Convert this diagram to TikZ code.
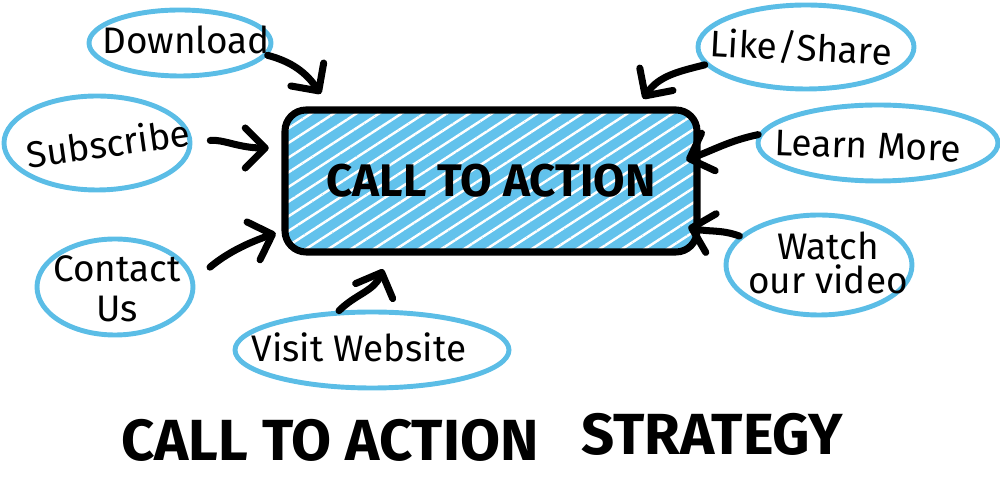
\documentclass[tikz,border=0pt]{standalone}
\usepackage{fontspec}
\setmainfont{Fira Sans}
\usetikzlibrary{arrows.meta,positioning,shapes.geometric,patterns.meta}

\definecolor{bubbleblue}{HTML}{5BBDE6}
\definecolor{ctablue}{HTML}{62C2EC}

\begin{document}
\begin{tikzpicture}[
  x=0.2mm, y=0.2mm,
  bubble/.style={ellipse, draw=bubbleblue, line width=2.8pt, inner sep=0pt},
  lbl/.style ={align=center, inner sep=0pt, font=\fontsize{21}{19}\selectfont},
  cta/.style ={draw, line width=4pt, rounded corners=12pt,
               preaction={fill=ctablue},
               pattern={Lines[angle=33,distance=7pt,line width=1.4pt]},
               pattern color=white,
               minimum width=82.4mm, minimum height=28.4mm,
               font=\fontsize{26}{30}\selectfont\bfseries},
  ttl/.style ={inner sep=0pt, font=\fontsize{33}{40}\selectfont\bfseries},
  arr/.style ={-{Straight Barb[length=4mm,width=8mm,round]},
               line width=4pt, line cap=round, line join=round}
]
\useasboundingbox (0,0) rectangle (1000,477);

% centre box
\node[cta] (cta) at (491,296) {CALL TO ACTION};

% bubbles round the box
\node[bubble, minimum width=36.4mm, minimum height=13.2mm] (dl)    at (180,434) {};
\node[lbl] (dltxt) at (186,437) {Download};

\node[bubble, minimum width=37.2mm, minimum height=18.8mm] (sub)   at (97,334) {};
\node[lbl, rotate=8] (subtxt) at (108,334) {Subscribe};

\node[bubble, minimum width=31.2mm, minimum height=19.2mm] (con)   at (115,190) {};
\node[lbl, font=\fontsize{21}{23}\selectfont] (contxt) at (117,188) {Contact\\Us};

\node[bubble, minimum width=54.8mm, minimum height=15.2mm] (web)   at (372,127) {};
\node[lbl] (webtxt) at (359,130) {Visit Website};

\node[bubble, minimum width=43.2mm, minimum height=16.8mm] (like)  at (806,430) {};
\node[lbl, rotate=-3] (liketxt) at (801,429) {Like/Share};

\node[bubble, minimum width=48mm,   minimum height=15.2mm] (learn) at (878,334) {};
\node[lbl, rotate=-2] (learntxt) at (868,331) {Learn More};

\node[bubble, minimum width=37.2mm, minimum height=20mm]   (watch) at (819,212) {};
\node[lbl] (watchtxt) at (828,214) {Watch\\our video};

% title
\node[ttl] (ttla) at (330,37) {CALL TO ACTION};
\node[ttl, right=8.4mm of ttla, yshift=1.2mm] (ttlb) {STRATEGY};

% arrows into the box
\draw[arr] (dl.-8) to[out=-15, in=125] ([shift={(37,15)}]cta.north west);
\draw[arr, shorten <=3.6mm] (sub.east) to[out=8, in=180] ([shift={(-15,33)}]cta.west);
\draw[arr, shorten <=4mm] (con.5) to[out=40, in=199] ([shift={(-8,20)}]cta.south west);
\draw[arr] (web.130) to[out=45, in=248] ([shift={(-108,-16)}]cta.south);
\draw[arr] (like.190) to[out=194, in=56] ([shift={(-55,10)}]cta.north east);
\draw[arr] (learn.176) to[out=192, in=20] ([shift={(-12,21)}]cta.east);
\draw[arr] (watch.160) to[out=160, in=-15] ([shift={(-10,-46)}]cta.east);
\end{tikzpicture}
\end{document}
